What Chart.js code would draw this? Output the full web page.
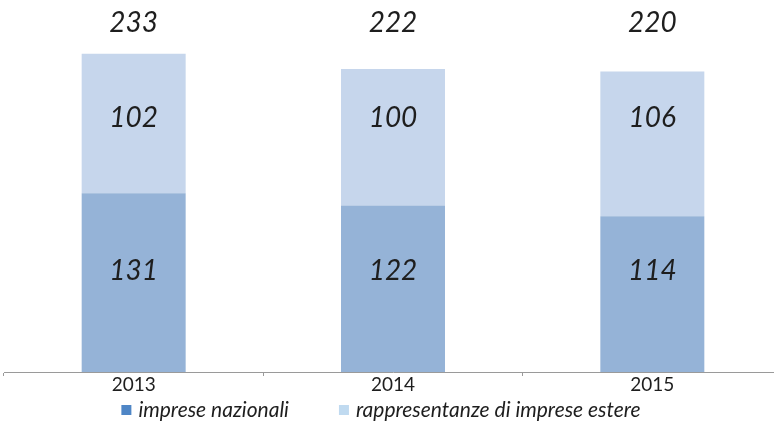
<!DOCTYPE html>
<html>
<head>
<meta charset="utf-8">
<script src="https://cdn.jsdelivr.net/npm/chart.js@4"></script>
<style>
    html, body { margin: 0; padding: 0; background: #fff; overflow: hidden; }
    .wrap { width: 774px; height: 427px; overflow: hidden; position: relative; }
    .wrap canvas { position: absolute; left: 0; top: 0; }
</style>
</head>
<body>
<div class="wrap">
    <canvas id="myChart" width="790" height="427"></canvas>
</div>
<script>
    const years = ['2013', '2014', '2015'];
    const nazionali = [131, 122, 114];
    const estere = [102, 100, 106];
    const totali = [233, 222, 220];
    const seriesNames = ['imprese nazionali', 'rappresentanze di imprese estere'];

    const fontFamily = 'Lato, "Noto Sans", sans-serif';
    const textColor = '#1e1e1e';

    // value labels inside the bars (same height for every bar, like the original) and totals on top
    const labelsPlugin = {
        id: 'barLabels',
        afterDatasetsDraw(chart) {
            const ctx = chart.ctx;
            const area = chart.chartArea;
            const rowY = [area.bottom - 101, area.bottom - 254];
            ctx.save();
            ctx.fillStyle = textColor;
            ctx.textAlign = 'center';
            ctx.textBaseline = 'middle';
            ctx.font = 'italic 28px ' + fontFamily;
            chart.data.datasets.forEach(function(ds, i) {
                chart.getDatasetMeta(i).data.forEach(function(bar, j) {
                    ctx.fillText(ds.data[j], bar.x, rowY[i]);
                });
            });
            chart.getDatasetMeta(0).data.forEach(function(bar, j) {
                ctx.fillText(totali[j], bar.x, 23);
            });
            ctx.restore();
        }
    };

    // legend drawn by hand so the spacing matches
    const legendPlugin = {
        id: 'bottomLegend',
        afterDraw(chart) {
            const ctx = chart.ctx;
            const area = chart.chartArea;
            const colors = ['#4f86c6', '#c0daf0'];
            const box = 10, gap = 7, spacing = 50;
            ctx.save();
            ctx.font = 'italic 21px ' + fontFamily;
            ctx.textBaseline = 'middle';
            ctx.textAlign = 'left';
            const widths = seriesNames.map(function(t) { return ctx.measureText(t).width; });
            const total = widths.reduce(function(a, b) { return a + b; }, 0) + 2 * (box + gap) + spacing;
            let x = area.left + 377 - total / 2;
            const y = 410;
            seriesNames.forEach(function(t, i) {
                ctx.fillStyle = colors[i];
                ctx.fillRect(x, y - box / 2, box, box);
                x += box + gap;
                ctx.fillStyle = textColor;
                ctx.fillText(t, x, y);
                x += widths[i] + spacing;
            });
            ctx.restore();
        }
    };

    var ctx = document.getElementById('myChart').getContext('2d');
    var myChart = new Chart(ctx, {
        type: 'bar',
        data: {
            labels: years,
            datasets: [{
                label: seriesNames[0],
                data: nazionali,
                backgroundColor: '#95b3d7'
            }, {
                label: seriesNames[1],
                data: estere,
                backgroundColor: '#c6d6ec'
            }]
        },
        options: {
            responsive: false,
            animation: false,
            categoryPercentage: 1,
            barPercentage: 0.401,
            layout: {
                padding: { top: 17, left: 4, right: 8, bottom: 34 }
            },
            scales: {
                x: {
                    stacked: true,
                    grid: {
                        display: true,
                        drawOnChartArea: false,
                        drawTicks: true,
                        tickLength: 4,
                        color: '#9a9a9a'
                    },
                    border: { color: '#9a9a9a', width: 1 },
                    ticks: {
                        color: textColor,
                        padding: -1,
                        font: { family: fontFamily, size: 19, lineHeight: 1 }
                    }
                },
                y: {
                    stacked: true,
                    display: false,
                    min: 0,
                    max: 260
                }
            },
            plugins: {
                tooltip: { enabled: false },
                legend: { display: false }
            }
        },
        plugins: [labelsPlugin, legendPlugin]
    });
</script>
</body>
</html>
